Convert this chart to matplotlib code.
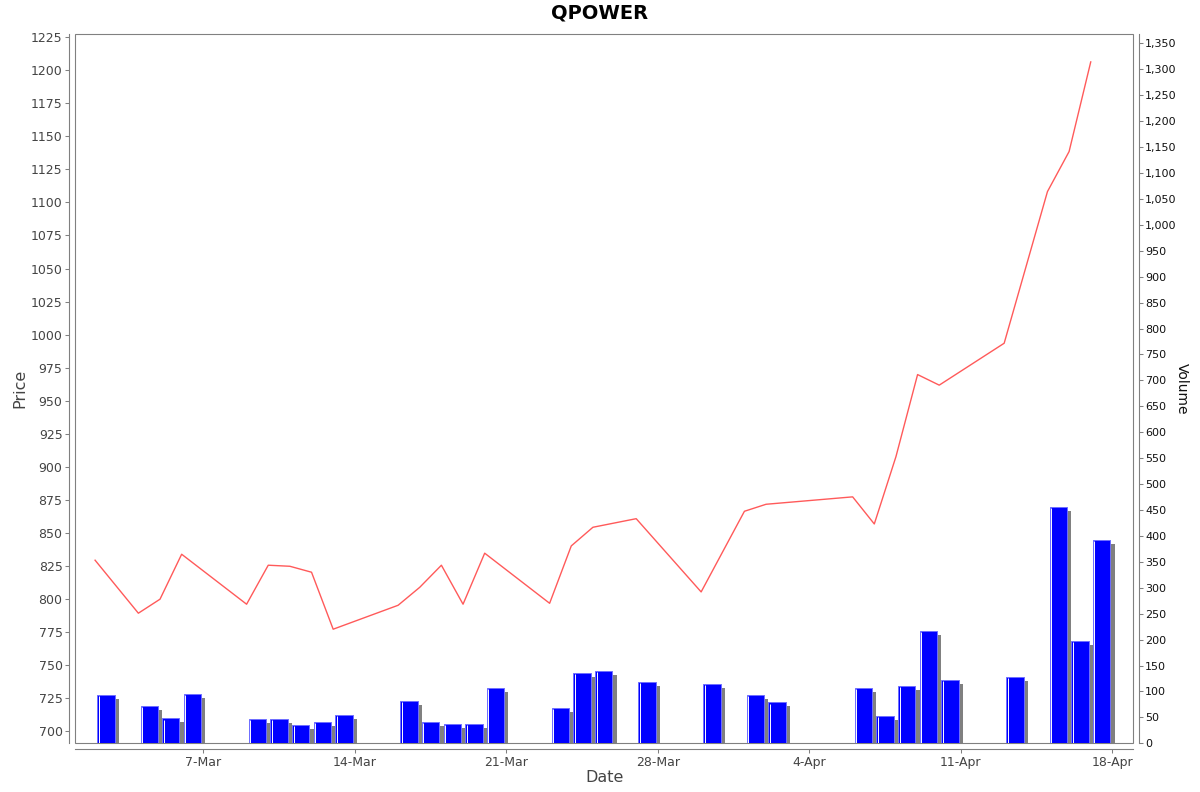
import datetime as dt
import numpy as np
import matplotlib
matplotlib.use("Agg")
from matplotlib import pyplot as plt
import matplotlib.dates as mdates
from matplotlib.ticker import FuncFormatter, MultipleLocator

### данные
dates = ["2024-03-02", "2024-03-04", "2024-03-05", "2024-03-06", "2024-03-09",
         "2024-03-10", "2024-03-11", "2024-03-12", "2024-03-13", "2024-03-16",
         "2024-03-17", "2024-03-18", "2024-03-19", "2024-03-20", "2024-03-23",
         "2024-03-24", "2024-03-25", "2024-03-27", "2024-03-30", "2024-04-01",
         "2024-04-02", "2024-04-06", "2024-04-07", "2024-04-08", "2024-04-09",
         "2024-04-10", "2024-04-13", "2024-04-15", "2024-04-16", "2024-04-17"]

price = [829.4, 789.3, 799.9, 833.9, 796.1,
         825.6, 824.8, 820.3, 777.2, 795.3,
         808.9, 825.6, 796.1, 834.7, 796.8,
         840.2, 854.3, 860.8, 805.4, 866.4,
         871.7, 877.3, 856.8, 907.7, 969.8,
         961.8, 993.5, 1108.2, 1138.5, 1206.3]

volume = [93, 72, 48, 95, 47,
          47, 35, 42, 55, 82,
          42, 37, 38, 107, 68,
          136, 140, 118, 114, 94,
          79, 107, 53, 111, 217,
          123, 128, 456, 197, 392]

xtick_dates = ["2024-03-07", "2024-03-14", "2024-03-21", "2024-03-28",
               "2024-04-04", "2024-04-11", "2024-04-18"]
###

W, H = 1200, 792
fig = plt.figure(figsize=(W / 100, H / 100), dpi=100)
plt.rcParams['font.family'] = ['DejaVu Sans']

gray = "#808080"
txt = "#444444"

x = mdates.date2num([dt.datetime.strptime(d, "%Y-%m-%d") for d in dates])
xt = mdates.date2num([dt.datetime.strptime(d, "%Y-%m-%d") for d in xtick_dates])

# координаты области графика в пикселях
left, right, top, bottom = 75, 1133.3, 34, 743.3
ax = fig.add_axes([left / W, 1 - bottom / H, (right - left) / W, (bottom - top) / H])
ax2 = ax.twinx()

# объём (правая ось)
px_day = 21.645
vol_top = 1368
px_vol = (bottom - top) / vol_top
sh_dx = 4.3 / px_day
sh_dy = 4 / px_vol
ax.bar(x + 0.1 + sh_dx, np.array(volume) - sh_dy, width=0.8, align="edge",
       color=gray, linewidth=0, zorder=1)
ax.bar(x + 0.1, volume, width=0.8, align="edge", color="#0000ff",
       edgecolor="#6f6fff", linewidth=0.7, zorder=2)
ax.vlines(x + 0.1 + 1.5 / px_day, 0, np.array(volume) - 1.2 / px_vol,
          color="white", linewidth=0.7, zorder=3)

ax.set_ylim(0, vol_top)
ax.yaxis.tick_right()
ax.yaxis.set_label_position("right")
ax.yaxis.set_major_locator(MultipleLocator(50))
ax.yaxis.set_major_formatter(FuncFormatter(lambda v, p: f"{int(v):,}"))
ax.set_ylabel("Volume", rotation=270, fontsize=10, color="#111111", labelpad=9)
ax.tick_params(axis="y", direction="out", length=3, width=0.75, color=gray,
               labelsize=8, labelcolor="#111111", pad=1.5)

# цена (левая ось)
ax2.plot(x, price, color="#ff5a5a", linewidth=1.0, zorder=5)
ax2.set_ylim(690.9, 1227.4)
ax2.yaxis.tick_left()
ax2.yaxis.set_label_position("left")
ax2.yaxis.set_major_locator(MultipleLocator(25))
ax2.set_ylabel("Price", fontsize=11.5, color=txt, labelpad=2)
ax2.tick_params(axis="y", direction="out", length=3, width=0.75, color=gray,
                labelsize=9, labelcolor=txt, pad=2)

# дата
x0 = mdates.date2num(dt.datetime(2024, 3, 7))
ax.set_xlim(x0 - (203.3 - left) / px_day, x0 + (right - 203.3) / px_day)
ax.set_xticks(xt)
ax.xaxis.set_major_formatter(FuncFormatter(
    lambda v, p: f"{mdates.num2date(v).day}-{mdates.num2date(v).strftime('%b')}"))
ax.set_xlabel("Date", fontsize=11.5, color=txt, labelpad=1)
ax.tick_params(axis="x", direction="out", length=3, width=0.75, color=gray,
               labelsize=9, labelcolor=txt, pad=2)

# рамка и оси со смещением
ax.patch.set_edgecolor(gray)
ax.patch.set_linewidth(0.8)
for a in (ax, ax2):
    for s in a.spines.values():
        s.set_visible(False)
ax.spines["bottom"].set_visible(True)
ax.spines["bottom"].set_position(("outward", 4))
ax.spines["right"].set_visible(True)
ax.spines["right"].set_position(("outward", 4))
ax2.spines["left"].set_visible(True)
ax2.spines["left"].set_position(("outward", 4))
for s in (ax.spines["bottom"], ax.spines["right"], ax2.spines["left"]):
    s.set_color(gray)
    s.set_linewidth(0.8)

fig.text(0.5, 1 - 13 / H, "QPOWER", ha="center", va="center",
         fontsize=14, fontweight="bold", color="black")

fig.savefig("out.png", dpi=100)
